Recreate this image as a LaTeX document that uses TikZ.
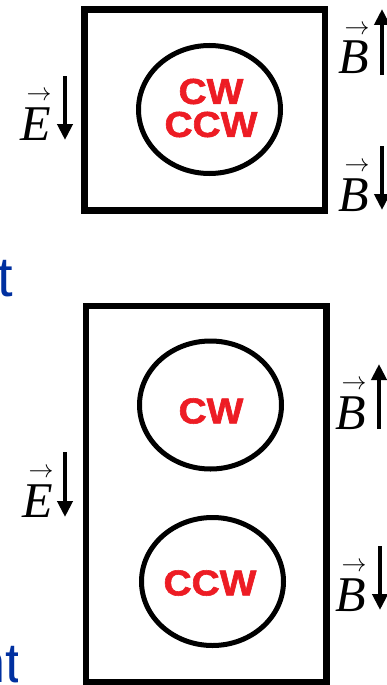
\documentclass[tikz,border=0pt]{standalone}
\usepackage{fontspec}
\setmainfont{Liberation Serif}
\newfontfamily\redfont[BoldFont={Liberation Sans Bold},BoldFeatures={FakeBold=1.6}]{Liberation Sans}
\newfontfamily\bluefont{Liberation Sans}
\usetikzlibrary{shapes.geometric,arrows.meta}
\definecolor{cwred}{RGB}{237,28,36}
\definecolor{slideblue}{RGB}{0,48,160}
\newcommand\vlet[1]{{\setbox0\hbox{\itshape #1}%
  \rlap{\hbox to \wd0{\hss\kern6pt\raisebox{1.22\ht0}{\fontsize{23}{23}\selectfont$\rightarrow$}\hss}}\box0}}
\begin{document}
\begin{tikzpicture}[x=1pt,y=-1pt,
  frame/.style={draw=black,line width=6.5pt},
  loop/.style={draw=black,ellipse,line width=5pt,minimum width=142pt,minimum height=128pt,inner sep=0pt},
  rot/.style={text=cwred,font=\redfont\bfseries\fontsize{36}{33}\selectfont,xscale=1.08,align=center},
  vlab/.style={font=\fontsize{50}{50}\selectfont,inner sep=0pt,anchor=base},
  fld/.style={line width=4pt,-{Triangle[width=15pt,length=16pt]}},
  partial/.style={text=slideblue,font=\bluefont\fontsize{56}{56}\selectfont,inner sep=0pt,anchor=base east}]
\useasboundingbox (0,0) rectangle (387,685);
\fill[white] (0,0) rectangle (387,685);
% top panel
\draw[frame] (84.5,9.5) rectangle (325,210.5);
\node[loop] (c1) at (209.5,109.5) {};
\node[rot] (t1) at (211,108) {CW\\CCW};
\node[vlab] (e1) at (36,140) {\vlet{E}};
\coordinate (e1s) at (65,76);
\coordinate (e1e) at (65,140);
\draw[fld] (e1s) -- (e1e);
\node[vlab] (b1) at (354,74) {\vlet{B}};
\coordinate (b1s) at (382,75);
\coordinate (b1e) at (382,9);
\draw[fld] (b1s) -- (b1e);
\node[vlab] (b2) at (354,211) {\vlet{B}};
\coordinate (b2s) at (382,146);
\coordinate (b2e) at (382,210);
\draw[fld] (b2s) -- (b2e);
% partial slide text
\node[partial] (p1) at (13,296) {t};
\begin{scope}
\clip (0,600) rectangle (17,685);
\node[partial] (p2) at (21,682) {nt};
\end{scope}
% bottom panel
\draw[frame] (86,306) rectangle (326.5,682.5);
\node[loop] (c2) at (210.5,405) {};
\node[rot] (t2) at (211,411) {CW};
\node[loop] (c3) at (212.5,581.5) {};
\node[rot] (t3) at (210,583) {CCW};
\node[vlab] (e2) at (38,517) {\vlet{E}};
\coordinate (e2s) at (65,452);
\coordinate (e2e) at (65,517);
\draw[fld] (e2s) -- (e2e);
\node[vlab] (b3) at (351,429) {\vlet{B}};
\coordinate (b3s) at (379,429);
\coordinate (b3e) at (379,364);
\draw[fld] (b3s) -- (b3e);
\node[vlab] (b4) at (351,611) {\vlet{B}};
\coordinate (b4s) at (380,546);
\coordinate (b4e) at (380,610);
\draw[fld] (b4s) -- (b4e);
\end{tikzpicture}
\end{document}
